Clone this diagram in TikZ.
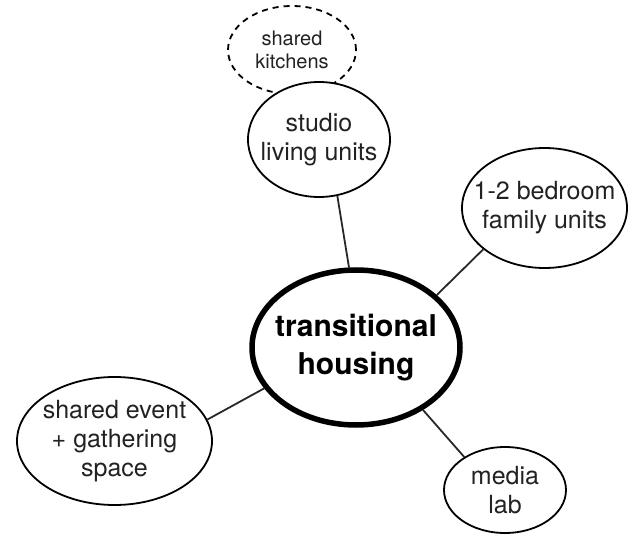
\documentclass[tikz,border=0pt]{standalone}
\usepackage{fontspec}
\setmainfont{TeX Gyre Heros}
\usetikzlibrary{shapes.geometric}
\definecolor{ink}{RGB}{0,0,0}
\definecolor{wire}{RGB}{40,40,40}
\definecolor{words}{RGB}{34,34,34}

\tikzset{
  bubble/.style={ellipse,draw=ink,line width=1.8pt,fill=white,inner sep=0pt},
  hubBubble/.style={bubble,line width=5.5pt},
  ideaBubble/.style={bubble,line width=1.8pt,dash pattern=on 6pt off 5pt},
  bubbleText/.style={align=center,text=words,inner sep=0pt,font=\fontsize{25}{29}\selectfont},
  hubText/.style={align=center,text=ink,inner sep=0pt,font=\fontsize{30}{38}\selectfont\bfseries},
  ideaText/.style={align=center,text=words,inner sep=0pt,font=\fontsize{20}{23}\selectfont},
  link/.style={wire,line width=1.8pt}
}

\begin{document}
\begin{tikzpicture}[x=1pt,y=-1pt]
  \useasboundingbox[fill=white] (0,0) rectangle (629,537);

  % shared kitchens (dashed, sits behind the studio bubble)
  \node[ideaBubble,minimum width=128pt,minimum height=88pt] (kitchen) at (292,50) {};
  \node[ideaText] (kitchenText) at (kitchen.center) {shared\\kitchens};

  % studio units
  \node[bubble,minimum width=142pt,minimum height=115pt] (studio) at (319,139.5) {};
  \node[bubbleText] (studioText) at (studio.center) {studio\\living units};

  % family units
  \node[bubble,minimum width=165pt,minimum height=120pt] (family) at (544.5,208) {};
  \node[bubbleText] (familyText) at (family.center) {1-2 bedroom\\family units};

  % event space
  \node[bubble,minimum width=195pt,minimum height=128pt] (event) at (114.5,441) {};
  \node[bubbleText] (eventText) at (event.center) {shared event\\+ gathering\\space};

  % media lab
  \node[bubble,minimum width=122pt,minimum height=86pt] (media) at (505,490) {};
  \node[bubbleText] (mediaText) at (media.center) {media\\lab};

  % hub
  \node[hubBubble,minimum width=208pt,minimum height=155pt] (hub) at (356,347.5) {};
  \node[hubText] (hubText) at (hub.center) {transitional\\housing};

  % spokes
  \draw[link] (studio.-72) -- (hub.95);
  \draw[link] (family.214) -- (hub.33);
  \draw[link] (event.13) -- (hub.204);
  \draw[link] (media.141) -- (hub.-43);
\end{tikzpicture}
\end{document}
